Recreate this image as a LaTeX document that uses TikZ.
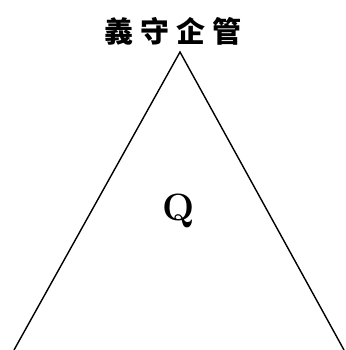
\documentclass[tikz,border=0pt]{standalone}
\usepackage{fontspec}
\usepackage{tikz}
\usetikzlibrary{positioning, calc}
\newfontfamily\cjk{Noto Sans CJK TC}
\tikzset{
  side/.style={line width=1.4pt, color=black},
  title/.style={font=\cjk\fontsize{29}{32}\selectfont\bfseries, inner sep=0pt},
  letter/.style={font=\fontsize{38}{42}\selectfont\bfseries, inner sep=0pt}
}
\begin{document}
\begin{tikzpicture}[x=1pt, y=-1pt]
  \useasboundingbox (0,0) rectangle (345,350);
  \begin{scope}
    \clip (0,0) rectangle (345,350);
    \coordinate (apex) at (180,52);
    \coordinate (left) at (14,350);
    \coordinate (right) at (344,350);
    \draw[side] (left) -- (apex) -- (right);
  \end{scope}
  \node[title] (name) at (173,31) {義\hspace{7pt}守\hspace{7pt}企\hspace{7pt}管};
  \node[letter] (q) at (179,211) {Q};
\end{tikzpicture}
\end{document}
